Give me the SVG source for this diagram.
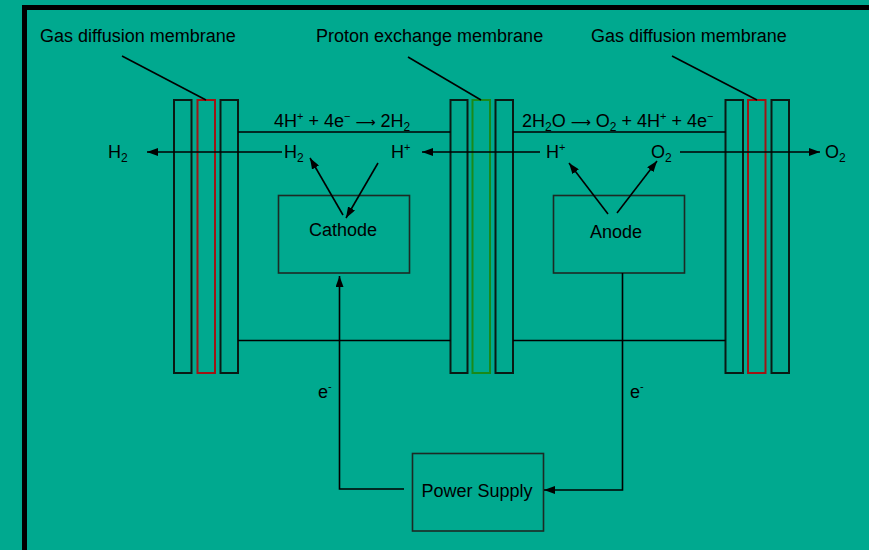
<svg xmlns="http://www.w3.org/2000/svg" width="869" height="550" viewBox="0 0 869 550">
<defs>
<style>
text{font-family:"Liberation Sans",Arial,sans-serif;font-size:18px;fill:#000}
.mem{fill:none;stroke:#0a1a14;stroke-width:2}
.red{fill:none;stroke:#a01414;stroke-width:2}
.grn{fill:none;stroke:#1a8a1a;stroke-width:2}
.box{fill:none;stroke:#1c2a24;stroke-width:1.6}
.ln{fill:none;stroke:#000;stroke-width:1.6}
.sub{font-size:12px}
.sup{font-size:11px}
.arw{font-family:"DejaVu Sans",sans-serif;font-size:14px}
</style>
<marker id="ah" viewBox="0 0 11 8" refX="11" refY="4" markerWidth="11" markerHeight="8" markerUnits="userSpaceOnUse" orient="auto">
<path d="M0,0 L11,4 L0,8 z" fill="#000"/>
</marker>
</defs>
<rect x="0" y="0" width="869" height="550" fill="#00A98F"/>
<rect x="24.5" y="7.5" width="900" height="600" fill="none" stroke="#000" stroke-width="5"/>

<g id="label-gdm-left">
<text x="40" y="42">Gas diffusion membrane</text>
</g>
<g id="label-pem">
<text x="316" y="42">Proton exchange membrane</text>
</g>
<g id="label-gdm-right">
<text x="591" y="42">Gas diffusion membrane</text>
</g>

<g id="stack-left">
<rect class="mem" x="174" y="100" width="17.5" height="273"/>
<rect class="red" x="197.5" y="100" width="17.5" height="273"/>
<rect class="mem" x="220.5" y="100" width="17.5" height="273"/>
</g>
<g id="stack-middle">
<rect class="mem" x="450.5" y="100" width="17" height="273"/>
<rect class="grn" x="472.5" y="100" width="17.5" height="273"/>
<rect class="mem" x="495.5" y="100" width="17.5" height="273"/>
</g>
<g id="stack-right">
<rect class="mem" x="725.5" y="100" width="17.5" height="273"/>
<rect class="red" x="748" y="100" width="17.5" height="273"/>
<rect class="mem" x="771.5" y="100" width="17.5" height="273"/>
</g>

<g id="cathode">
<rect class="box" x="278.5" y="195.5" width="131" height="77.5"/>
<text x="343" y="236" text-anchor="middle">Cathode</text>
</g>
<g id="anode">
<rect class="box" x="553.5" y="195.5" width="131" height="77.5"/>
<text x="616" y="238" text-anchor="middle">Anode</text>
</g>
<g id="power-supply">
<rect class="box" x="412.5" y="453.5" width="131" height="77.5"/>
<text x="477" y="497" text-anchor="middle">Power Supply</text>
</g>

<g id="equations">
<text x="274" y="127">4H<tspan class="sup" dy="-7">+</tspan><tspan dy="7"> + 4e</tspan><tspan class="sup" dy="-7">−</tspan><tspan dy="7"> </tspan><tspan class="arw">⟶</tspan> 2H<tspan class="sub" dy="4">2</tspan></text>
<text x="522" y="127">2H<tspan class="sub" dy="4">2</tspan><tspan dy="-4">O </tspan><tspan class="arw">⟶</tspan> O<tspan class="sub" dy="4">2</tspan><tspan dy="-4"> + 4H</tspan><tspan class="sup" dy="-7">+</tspan><tspan dy="7"> + 4e</tspan><tspan class="sup" dy="-7">−</tspan></text>
</g>

<g id="species">
<text x="108" y="158">H<tspan class="sub" dy="4">2</tspan></text>
<text x="284" y="158">H<tspan class="sub" dy="4">2</tspan></text>
<text x="391" y="158">H<tspan class="sup" dy="-7">+</tspan></text>
<text x="546" y="158">H<tspan class="sup" dy="-7">+</tspan></text>
<text x="651" y="158">O<tspan class="sub" dy="4">2</tspan></text>
<text x="825" y="158">O<tspan class="sub" dy="4">2</tspan></text>
<text x="318" y="398">e<tspan class="sup" dy="-8">-</tspan></text>
<text x="630" y="398">e<tspan class="sup" dy="-8">-</tspan></text>
</g>

<g id="connectors">
<line class="ln" x1="122" y1="56" x2="206" y2="100"/>
<line class="ln" x1="408" y1="57" x2="481" y2="100"/>
<line class="ln" x1="672" y1="56" x2="757" y2="100"/>
<line class="ln" x1="238" y1="132" x2="450.5" y2="132"/>
<line class="ln" x1="513" y1="132" x2="725.5" y2="132"/>
<line class="ln" x1="238" y1="340.5" x2="450.5" y2="340.5"/>
<line class="ln" x1="513" y1="340.5" x2="725.5" y2="340.5"/>
<line class="ln" x1="282" y1="152" x2="147" y2="152" marker-end="url(#ah)"/>
<line class="ln" x1="540" y1="152" x2="422" y2="152" marker-end="url(#ah)"/>
<line class="ln" x1="680" y1="152" x2="820" y2="152" marker-end="url(#ah)"/>
<line class="ln" x1="343" y1="215" x2="310" y2="158" marker-end="url(#ah)"/>
<line class="ln" x1="378" y1="163" x2="346" y2="218" marker-end="url(#ah)"/>
<line class="ln" x1="608" y1="214" x2="569" y2="163" marker-end="url(#ah)"/>
<line class="ln" x1="617" y1="213" x2="657" y2="161" marker-end="url(#ah)"/>
<path class="ln" d="M404,489 H339.5 V276" marker-end="url(#ah)"/>
<path class="ln" d="M622.5,273 V490 H544" marker-end="url(#ah)"/>
</g>
</svg>
